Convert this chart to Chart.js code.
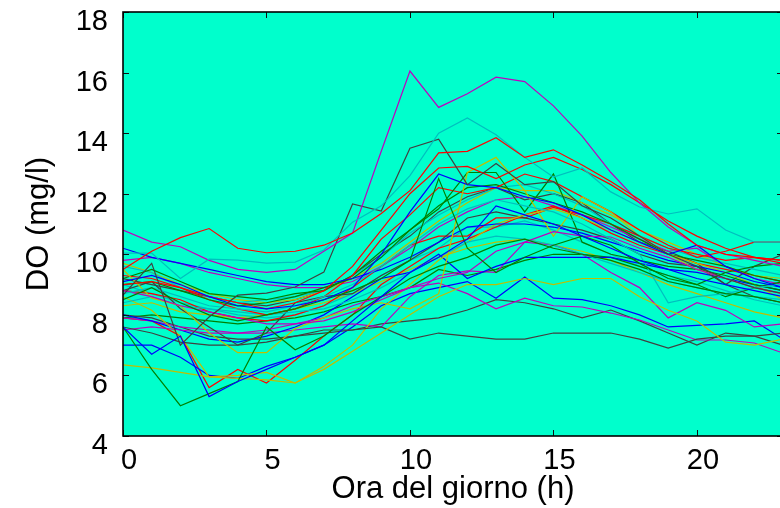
<!DOCTYPE html>
<html>
<head>
<meta charset="utf-8">
<script src="https://cdn.jsdelivr.net/npm/chart.js@4.4.1/dist/chart.umd.min.js"></script>
<style>
  html, body { margin: 0; padding: 0; background: #fff; overflow: hidden; }
  canvas { display: block; }
</style>
</head>
<body>
<canvas id="myChart" width="784" height="508"></canvas>
<script>
'use strict';

// hours of the day
let hours = [0, 1, 2, 3, 4, 5, 6, 7, 8, 9, 10, 11, 12, 13, 14, 15, 16, 17, 18, 19, 20, 21, 22, 23];
let xTicks = [0, 5, 10, 15, 20];
let yTicks = [4, 6, 8, 10, 12, 14, 16, 18];

// DO values (mg/l), one array per day
let blue1 = [7.6, 6.7, 7.3, 5.3, 5.8, 6.2, 6.6, 7.0, 7.8, 8.6, 9.4, 9.9, 10.5, 11.6, 11.3, 11.0, 10.6, 10.2, 9.8, 9.5, 9.2, 9.0, 8.8, 8.6];
let green1 = [7.6, 6.2, 5.0, 5.4, 5.8, 7.6, 6.85, 7.3, 8.0, 8.6, 9.2, 9.6, 9.9, 10.3, 10.5, 10.2, 10.0, 9.8, 9.5, 9.1, 8.9, 8.7, 8.6, 8.4];
let red1 = [9.5, 10.1, 10.55, 10.85, 10.2, 10.05, 10.1, 10.3, 10.7, 11.35, 12.1, 13.35, 13.4, 13.85, 13.2, 13.45, 12.95, 12.4, 11.8, 11.0, 10.3, 10.0, 9.9, 9.8];
let cyan1 = [10.04, 10.04, 9.2, 9.84, 9.81, 9.71, 9.74, 10.14, 11.06, 11.6, 12.6, 14.0, 14.5, 13.95, 13.2, 12.55, 12.85, 12.06, 11.56, 11.33, 11.5, 10.8, 10.4, 10.4];
let magenta1 = [10.8, 10.4, 10.25, 9.8, 9.5, 9.4, 9.5, 10.1, 10.7, 13.4, 16.05, 14.85, 15.3, 15.85, 15.7, 14.9, 13.9, 12.7, 11.7, 10.9, 10.3, 10.0, 9.8, 9.6];
let yellow1 = [6.35, 6.25, 6.1, 5.95, 5.9, 5.85, 5.75, 6.2, 6.8, 7.4, 8.0, 8.6, 9.0, 9.0, 9.2, 9.0, 9.2, 9.2, 8.6, 8.15, 7.8, 7.1, 7.0, 7.2];
let gray1 = [8.65, 9.7, 7.0, 7.93, 8.65, 8.72, 8.92, 9.41, 11.66, 11.43, 13.5, 13.8, 12.3, 13.0, 12.3, 12.4, 11.6, 11.2, 10.6, 10.0, 9.6, 9.2, 8.9, 8.7];

let blue2 = [9.1, 9.3, 9.0, 8.6, 8.3, 8.2, 8.3, 8.5, 8.9, 10.0, 11.4, 12.65, 12.3, 12.2, 11.9, 11.7, 11.3, 10.8, 10.4, 10.0, 10.3, 9.6, 9.2, 8.9];
let green2 = [8.5, 8.9, 8.4, 8.0, 7.8, 8.0, 8.2, 8.5, 8.8, 9.2, 9.8, 12.5, 10.2, 9.4, 9.9, 10.3, 10.6, 10.3, 9.7, 9.2, 9.0, 9.4, 9.6, 9.7];
let red2 = [9.0, 9.1, 8.9, 8.6, 8.4, 8.2, 8.4, 8.8, 9.6, 10.8, 12.0, 12.85, 12.9, 12.5, 12.95, 13.2, 12.8, 12.3, 11.7, 11.1, 10.6, 10.2, 9.9, 9.7];
let cyan2 = [8.7, 8.9, 8.6, 8.3, 8.2, 8.1, 8.3, 8.6, 9.0, 9.6, 10.3, 11.0, 11.5, 11.8, 11.6, 11.4, 11.0, 10.5, 10.0, 8.4, 8.6, 8.7, 8.9, 9.0];
let magenta2 = [8.8, 8.6, 8.3, 8.1, 7.9, 7.7, 7.7, 7.8, 8.1, 8.5, 8.9, 9.2, 9.4, 10.1, 10.4, 10.75, 10.6, 10.57, 10.2, 9.9, 9.5, 9.2, 8.9, 8.7];
let yellow2 = [9.5, 8.55, 8.3, 7.4, 6.75, 6.75, 7.55, 7.9, 8.2, 8.4, 8.2, 8.7, 12.7, 13.2, 12.1, 10.6, 11.9, 11.4, 10.6, 10.0, 9.5, 9.2, 8.9, 8.7];
let gray2 = [7.6, 7.4, 7.1, 7.0, 7.0, 7.1, 7.3, 7.5, 7.5, 7.6, 7.2, 7.4, 7.3, 7.2, 7.2, 7.4, 7.4, 7.4, 7.2, 6.9, 7.2, 7.3, 7.3, 7.4];

let blue3 = [10.2, 9.9, 9.7, 9.5, 9.3, 9.1, 9.0, 9.0, 9.2, 9.5, 9.9, 10.4, 10.9, 11.0, 11.0, 10.9, 10.7, 10.4, 10.1, 9.8, 9.6, 9.4, 9.1, 8.9];
let green3 = [9.0, 9.1, 8.8, 8.5, 8.3, 8.4, 8.6, 8.9, 9.2, 9.9, 10.8, 11.5, 12.7, 12.7, 11.4, 12.65, 10.4, 10.0, 9.8, 9.6, 9.5, 9.3, 9.0, 8.8];
let red3 = [9.3, 9.2, 8.9, 8.5, 8.2, 8.0, 8.2, 8.6, 9.3, 10.5, 11.3, 12.2, 12.0, 12.2, 12.65, 12.4, 11.9, 11.4, 10.8, 10.3, 9.9, 10.1, 10.4, 10.4];
let cyan3 = [8.4, 8.6, 8.3, 8.2, 8.1, 8.0, 8.1, 8.2, 8.5, 8.9, 9.4, 9.9, 10.4, 10.6, 10.5, 10.3, 10.0, 9.7, 9.4, 9.1, 8.9, 8.7, 8.6, 8.5];
let magenta3 = [7.5, 7.6, 7.5, 7.4, 7.4, 7.5, 7.7, 7.9, 8.3, 8.6, 8.9, 9.05, 8.7, 8.2, 8.55, 8.3, 8.26, 8.06, 7.83, 7.5, 7.17, 7.17, 7.07, 6.74];
let yellow3 = [8.6, 8.15, 7.3, 5.95, 6.0, 6.1, 5.75, 6.3, 7.0, 8.2, 9.0, 9.8, 10.4, 11.0, 11.3, 11.5, 11.2, 10.8, 10.4, 10.0, 9.7, 9.4, 9.0, 8.5];
let gray3 = [8.8, 9.1, 8.2, 7.6, 7.0, 7.4, 8.4, 8.6, 8.7, 9.3, 9.8, 10.4, 11.2, 11.4, 11.2, 11.0, 10.8, 10.5, 10.0, 9.7, 9.6, 9.0, 8.6, 8.4];

let blue4 = [8.0, 7.8, 7.5, 7.2, 7.1, 7.3, 7.6, 8.0, 8.6, 9.2, 9.4, 10.0, 9.2, 9.6, 9.9, 9.9, 9.9, 9.9, 9.7, 9.5, 9.4, 9.2, 9.0, 8.8];
let green4 = [9.2, 9.5, 9.1, 8.7, 8.6, 8.5, 8.7, 8.8, 9.3, 10.1, 10.8, 11.6, 12.2, 12.3, 12.0, 11.7, 11.4, 11.0, 10.5, 10.0, 9.8, 9.6, 9.3, 9.1];
let red4 = [8.8, 8.7, 8.5, 8.1, 7.9, 7.8, 8.0, 8.3, 8.9, 9.6, 10.3, 10.6, 10.6, 11.2, 11.2, 11.55, 11.3, 11.0, 10.6, 10.2, 10.0, 9.8, 9.9, 9.8];
let cyan4 = [9.6, 9.4, 8.9, 8.6, 8.4, 8.5, 8.6, 8.8, 9.3, 9.9, 10.7, 11.3, 11.8, 12.2, 12.3, 12.0, 11.6, 11.0, 10.6, 10.2, 9.9, 9.7, 9.5, 9.3];
let magenta4 = [7.9, 7.8, 7.6, 7.5, 7.4, 7.4, 7.5, 7.6, 7.7, 7.6, 8.6, 9.3, 9.45, 9.4, 10.4, 10.3, 10.0, 9.4, 8.9, 7.9, 8.4, 8.15, 7.6, 7.7];
let yellow4 = [9.7, 9.4, 9.0, 8.7, 8.5, 8.4, 8.5, 8.8, 9.2, 9.7, 10.4, 11.1, 11.7, 12.2, 12.1, 12.1, 11.7, 11.3, 10.8, 10.4, 10.0, 9.6, 9.3, 9.2];
let gray4 = [8.0, 7.9, 7.6, 7.3, 7.2, 7.2, 7.3, 7.4, 7.5, 7.7, 7.8, 7.9, 8.16, 8.5, 8.4, 8.2, 7.9, 8.16, 7.8, 7.4, 7.0, 7.4, 7.3, 7.0];

let blue5 = [7.0, 7.0, 6.6, 6.0, 5.9, 6.3, 6.6, 7.0, 7.6, 8.3, 8.7, 8.9, 9.1, 8.55, 9.25, 8.55, 8.5, 8.3, 8.0, 7.6, 7.65, 7.7, 7.8, 7.2];
let green5 = [7.9, 8.0, 7.9, 7.8, 7.7, 7.8, 7.9, 8.1, 8.4, 8.6, 8.9, 9.5, 9.3, 9.5, 9.8, 10.0, 10.0, 9.9, 9.6, 9.3, 9.0, 8.6, 8.9, 9.1];
let red5 = [7.9, 7.8, 7.3, 5.6, 6.2, 5.75, 6.5, 7.3, 8.0, 9.0, 9.6, 10.2, 10.5, 10.9, 11.3, 11.6, 11.2, 10.7, 10.3, 10.0, 9.7, 9.5, 9.3, 9.1];
let cyan5 = [9.0, 8.7, 8.4, 8.2, 8.0, 7.9, 8.0, 8.3, 8.7, 9.3, 9.8, 10.2, 10.9, 10.9, 11.1, 10.8, 10.4, 10.0, 9.6, 9.3, 9.1, 8.8, 8.5, 8.3];
let magenta5 = [9.8, 9.9, 9.7, 9.4, 9.2, 9.0, 8.9, 8.9, 9.1, 9.6, 10.2, 10.9, 11.4, 11.8, 11.9, 11.6, 11.3, 10.9, 10.5, 10.1, 10.2, 9.6, 9.2, 9.0];
let yellow5 = [8.3, 8.4, 8.1, 8.0, 7.9, 8.0, 8.2, 8.4, 8.7, 9.1, 9.5, 9.9, 10.2, 10.4, 10.5, 10.3, 10.1, 9.8, 9.4, 9.0, 8.7, 8.4, 8.1, 7.9];
let gray5 = [9.2, 9.0, 8.8, 8.6, 8.4, 8.3, 8.5, 8.8, 9.3, 10.0, 10.6, 11.4, 11.9, 12.2, 11.8, 12.0, 11.7, 11.0, 10.4, 10.1, 9.7, 9.0, 9.6, 10.0];

let allDays = [
  blue1, green1, red1, cyan1, magenta1, yellow1, gray1,
  blue2, green2, red2, cyan2, magenta2, yellow2, gray2,
  blue3, green3, red3, cyan3, magenta3, yellow3, gray3,
  blue4, green4, red4, cyan4, magenta4, yellow4, gray4,
  blue5, green5, red5, cyan5, magenta5, yellow5, gray5
];

// old matlab colour order
let lineColors = ['#0000ff', '#008000', '#ff0000', '#00bfbf', '#bf00bf', '#bfbf00', '#404040'];

let fontFamily = '"Liberation Sans", Arial, Helvetica, sans-serif';

// background of the plot box, border and inward ticks
let framePlugin = {
  id: 'framePlugin',
  beforeDatasetsDraw(chart) {
    let ctx = chart.ctx;
    let a = chart.chartArea;
    ctx.save();
    ctx.fillStyle = '#00ffcc';
    ctx.fillRect(a.left, a.top, a.right - a.left, a.bottom - a.top);
    ctx.restore();
  },
  afterDatasetsDraw(chart) {
    let ctx = chart.ctx;
    let a = chart.chartArea;
    let tick = 6;
    ctx.save();
    ctx.strokeStyle = '#111';
    ctx.lineWidth = 1;
    chart.scales.y.ticks.forEach(function (t) {
      let y = Math.round(chart.scales.y.getPixelForValue(t.value)) + 0.5;
      ctx.beginPath();
      ctx.moveTo(a.left, y);
      ctx.lineTo(a.left + tick, y);
      ctx.moveTo(a.right, y);
      ctx.lineTo(a.right - tick, y);
      ctx.stroke();
    });
    chart.scales.x.ticks.forEach(function (t) {
      let x = Math.round(chart.scales.x.getPixelForValue(t.value)) + 0.5;
      ctx.beginPath();
      ctx.moveTo(x, a.bottom);
      ctx.lineTo(x, a.bottom - tick);
      ctx.moveTo(x, a.top);
      ctx.lineTo(x, a.top + tick);
      ctx.stroke();
    });
    ctx.lineWidth = 1.6;
    ctx.strokeStyle = '#000';
    ctx.strokeRect(a.left, a.top, a.right - a.left, a.bottom - a.top);
    ctx.restore();
  }
};

let datasets = [];
for (let i = 0; i < allDays.length; i++) {
  let points = [];
  for (let j = 0; j < hours.length; j++) {
    points.push({ x: hours[j], y: allDays[i][j] });
  }
  datasets.push({
    data: points,
    borderColor: lineColors[i % lineColors.length],
    borderWidth: 1.2,
    pointRadius: 0,
    fill: false,
    tension: 0
  });
}

let config = {
  type: 'line',
  data: { datasets: datasets },
  options: {
    responsive: false,
    animation: false,
    devicePixelRatio: 1,
    layout: { padding: { top: 12, right: 1, left: 0, bottom: 0 } },
    plugins: { legend: { display: false }, tooltip: { enabled: false } },
    scales: {
      x: {
        type: 'linear',
        min: 0,
        max: 23,
        afterBuildTicks(scale) {
          scale.ticks = xTicks.map(function (v) { return { value: v }; });
        },
        afterFit(scale) {
          scale.height = 72;
          scale.paddingLeft = 0;
          scale.paddingRight = 0;
        },
        grid: { display: false, drawTicks: false },
        border: { display: false },
        ticks: {
          padding: 8,
          labelOffset: 6,
          color: '#000',
          maxRotation: 0,
          font: { family: fontFamily, size: 29 }
        },
        title: {
          display: true,
          text: 'Ora del giorno (h)',
          color: '#000',
          padding: { top: 0, bottom: 0 },
          font: { family: fontFamily, size: 31 }
        }
      },
      y: {
        type: 'linear',
        min: 4,
        max: 18,
        afterBuildTicks(scale) {
          scale.ticks = yTicks.map(function (v) { return { value: v }; });
        },
        afterFit(scale) {
          scale.width = 123;
          scale.paddingTop = 0;
          scale.paddingBottom = 0;
        },
        grid: { display: false, drawTicks: false },
        border: { display: false },
        ticks: {
          padding: 15,
          labelOffset: 10,
          color: '#000',
          font: { family: fontFamily, size: 29 }
        },
        title: {
          display: true,
          text: 'DO (mg/l)',
          color: '#000',
          padding: { top: 21, bottom: 0 },
          font: { family: fontFamily, size: 31 }
        }
      }
    }
  },
  plugins: [framePlugin]
};

const ctx = document.getElementById('myChart').getContext('2d');
const myChart = new Chart(ctx, config);
</script>
</body>
</html>
